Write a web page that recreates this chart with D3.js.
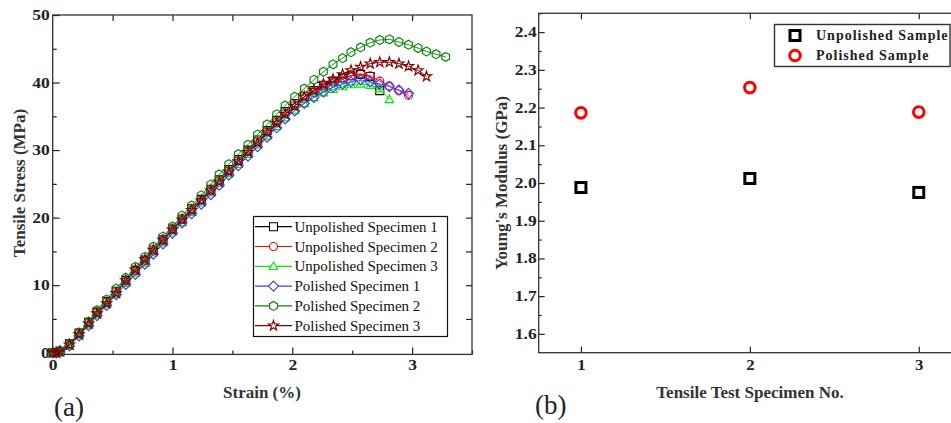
<!DOCTYPE html>
<html>
<head>
<meta charset="utf-8">
<script src="https://cdnjs.cloudflare.com/ajax/libs/d3/7.8.5/d3.min.js"></script>
<style>
  body { margin: 0; background: #fff; }
  svg { display: block; font-family: "Liberation Serif", "Times New Roman", serif; }
</style>
</head>
<body>
<div id="chart"></div>
<script>
// (a) stress-strain curves, strain grid shared by every specimen
var strain = [0, 0.03, 0.06, 0.14, 0.22, 0.30, 0.37, 0.45, 0.53, 0.61, 0.69, 0.77, 0.84, 0.92, 1.00, 1.08, 1.16, 1.24, 1.32, 1.39, 1.47, 1.55, 1.63, 1.71, 1.79, 1.87, 1.94, 2.02, 2.10, 2.18, 2.26, 2.34, 2.42, 2.49, 2.57, 2.65, 2.73, 2.81, 2.89, 2.97, 3.05, 3.12, 3.20, 3.28];

var stressUnpolished1 = [0, 0, 0.2, 1.3, 2.9, 4.5, 6.0, 7.6, 9.1, 10.7, 12.2, 13.7, 15.2, 16.7, 18.3, 19.8, 21.3, 22.7, 24.2, 25.6, 27.1, 28.6, 30.0, 31.5, 32.9, 34.4, 35.7, 36.9, 37.9, 38.8, 39.6, 40.2, 40.7, 41.0, 41.2, 40.9, 38.8];
var stressUnpolished2 = [0, 0, 0.1, 1.2, 2.8, 4.4, 5.9, 7.5, 9.0, 10.6, 12.1, 13.6, 15.1, 16.6, 18.2, 19.7, 21.1, 22.6, 24.0, 25.5, 26.9, 28.4, 29.8, 31.2, 32.7, 34.1, 35.4, 36.6, 37.6, 38.5, 39.3, 40.0, 40.6, 41.0, 41.3, 41.0, 40.2, 39.5, 38.8, 38.1];
var stressUnpolished3 = [0, 0, 0, 1.0, 2.5, 4.1, 5.6, 7.2, 8.7, 10.3, 11.8, 13.3, 14.8, 16.3, 17.9, 19.3, 20.8, 22.2, 23.7, 25.1, 26.5, 27.9, 29.4, 30.8, 32.1, 33.5, 34.8, 35.9, 36.9, 37.8, 38.5, 39.0, 39.4, 39.7, 39.8, 39.6, 39.1, 37.5];
var stressPolished1 = [0, 0, 0.1, 1.0, 2.5, 4.0, 5.5, 7.0, 8.6, 10.1, 11.6, 13.1, 14.6, 16.1, 17.7, 19.2, 20.6, 22.0, 23.4, 24.8, 26.3, 27.7, 29.1, 30.5, 31.9, 33.3, 34.6, 35.8, 36.9, 37.8, 38.6, 39.3, 39.8, 40.1, 40.4, 40.1, 39.8, 39.4, 38.9, 38.4];
var stressPolished2 = [0, 0, 0.3, 1.3, 3.0, 4.6, 6.3, 7.9, 9.5, 11.1, 12.7, 14.2, 15.7, 17.2, 18.7, 20.3, 21.8, 23.3, 24.9, 26.4, 27.9, 29.4, 30.8, 32.3, 33.8, 35.3, 36.6, 37.9, 39.1, 40.4, 41.6, 42.7, 43.6, 44.5, 45.2, 45.9, 46.3, 46.4, 46.0, 45.6, 45.1, 44.6, 44.2, 43.8];
var stressPolished3 = [0, 0, 0.2, 1.2, 2.7, 4.3, 5.8, 7.3, 8.8, 10.7, 12.3, 13.8, 15.2, 16.7, 18.2, 19.7, 21.1, 22.5, 24.0, 25.3, 26.8, 28.3, 29.7, 31.1, 32.6, 34.0, 35.3, 36.5, 37.9, 38.9, 39.8, 40.5, 41.2, 41.8, 42.3, 42.8, 43.0, 43.0, 42.8, 42.4, 41.8, 40.9];

var seriesNames = ["Unpolished Specimen 1", "Unpolished Specimen 2", "Unpolished Specimen 3", "Polished Specimen 1", "Polished Specimen 2", "Polished Specimen 3"];
var seriesColors = ["#000000", "#ff0000", "#00ee00", "#3c3cff", "#008800", "#800000"];
var seriesShapes = ["square", "circle", "triangle", "diamond", "hexagon", "star"];
var seriesStress = [stressUnpolished1, stressUnpolished2, stressUnpolished3, stressPolished1, stressPolished2, stressPolished3];

var strainTicks = [0, 1, 2, 3];
var stressTicks = [0, 10, 20, 30, 40, 50];

// (b) Young's modulus per specimen
var specimenNo = [1, 2, 3];
var modulusUnpolished = [1.988, 2.012, 1.975];
var modulusPolished = [2.186, 2.253, 2.188];
var modulusTicks = [1.6, 1.7, 1.8, 1.9, 2.0, 2.1, 2.2, 2.3, 2.4];

var svg = d3.select('#chart').append('svg')
  .attr('width', 951)
  .attr('height', 423);

// marker paths
function shapePath(shape, r) {
  if (shape == "square") return "M" + (-r) + "," + (-r) + "h" + 2 * r + "v" + 2 * r + "h" + (-2 * r) + "Z";
  if (shape == "circle") return d3.symbol(d3.symbolCircle, Math.PI * r * r)();
  if (shape == "triangle") return "M0," + (-r * 1.1) + "L" + r * 1.05 + "," + r * 0.8 + "L" + (-r * 1.05) + "," + r * 0.8 + "Z";
  if (shape == "diamond") return "M0," + (-r * 1.25) + "L" + r * 1.25 + ",0L0," + r * 1.25 + "L" + (-r * 1.25) + ",0Z";
  if (shape == "hexagon") {
    var pts = [];
    for (var i = 0; i < 6; i++) {
      var a = Math.PI / 3 * i - Math.PI / 2;
      pts.push([r * 1.12 * Math.cos(a), r * 1.12 * Math.sin(a)]);
    }
    return "M" + pts.join("L") + "Z";
  }
  if (shape == "star") return d3.symbol(d3.symbolStar, r * r * 2.0)();
}

function stretch(sel, k) {
  sel.each(function() {
    var w = this.getComputedTextLength();
    d3.select(this).attr('textLength', w * k).attr('lengthAdjust', 'spacingAndGlyphs');
  });
}

function styleAxis(g) {
  g.select('.domain').remove();
  g.selectAll('line').attr('stroke', '#222').attr('stroke-width', 1.2);
  g.selectAll('text')
    .attr('font-family', '"Liberation Serif", serif')
    .attr('font-size', '14px')
    .attr('font-weight', 'bold')
    .attr('fill', '#222');
}

// ---------------- panel (a) ----------------
var xA = d3.scaleLinear().domain([0, 3.5]).range([52.7, 472]);
var yA = d3.scaleLinear().domain([-0.25, 50]).range([354.4, 15]);

var gA = svg.append('g');

gA.append('g').attr('transform', 'translate(0,' + yA.range()[0] + ')')
  .call(d3.axisBottom(xA).tickValues(strainTicks).tickSize(-7).tickPadding(6).tickFormat(d3.format('d')))
  .call(styleAxis)
  .call(function(g) { stretch(g.selectAll('text'), 1.25); });
gA.append('g').attr('transform', 'translate(0,' + yA.range()[0] + ')')
  .call(d3.axisBottom(xA).tickValues([0.5, 1.5, 2.5, 3.5]).tickSize(-4).tickFormat(''))
  .call(styleAxis);
gA.append('g').attr('transform', 'translate(0,' + yA.range()[1] + ')')
  .call(d3.axisTop(xA).tickValues([0.5, 1, 1.5, 2, 2.5, 3]).tickSize(-6).tickFormat(''))
  .call(styleAxis);

gA.append('g').attr('transform', 'translate(' + xA.range()[0] + ',0)')
  .call(d3.axisLeft(yA).tickValues(stressTicks).tickSize(-7).tickPadding(3).tickFormat(d3.format('d')))
  .call(styleAxis)
  .call(function(g) { stretch(g.selectAll('text'), 1.25); });
gA.append('g').attr('transform', 'translate(' + xA.range()[0] + ',0)')
  .call(d3.axisLeft(yA).tickValues([5, 15, 25, 35, 45]).tickSize(-4).tickFormat(''))
  .call(styleAxis);
gA.append('g').attr('transform', 'translate(' + xA.range()[1] + ',0)')
  .call(d3.axisRight(yA).tickValues([5, 10, 15, 20, 25, 30, 35, 40, 45]).tickSize(-6).tickFormat(''))
  .call(styleAxis);

gA.append('rect')
  .attr('x', xA.range()[0]).attr('y', yA.range()[1])
  .attr('width', xA.range()[1] - xA.range()[0])
  .attr('height', yA.range()[0] - yA.range()[1])
  .attr('fill', 'none').attr('stroke', '#333').attr('stroke-width', 1.3);

var line = d3.line()
  .x(function(d, i) { return xA(strain[i]); })
  .y(function(d) { return yA(d); });

for (var s = 0; s < seriesStress.length; s++) {
  var col = seriesColors[s];
  gA.append('path')
    .datum(seriesStress[s])
    .attr('d', line)
    .attr('fill', 'none')
    .attr('stroke', col)
    .attr('stroke-width', 0.9);
  gA.append('g').selectAll('path')
    .data(seriesStress[s])
    .enter()
    .append('path')
    .attr('transform', function(d, i) { return 'translate(' + xA(strain[i]) + ',' + yA(d) + ')'; })
    .attr('d', shapePath(seriesShapes[s], 4))
    .attr('fill', 'none')
    .attr('stroke', col)
    .attr('stroke-width', 1.15);
}

// legend (a)
var legA = gA.append('g');
legA.append('rect')
  .attr('x', 253.5).attr('y', 216.5).attr('width', 194).attr('height', 120)
  .attr('fill', '#fff').attr('stroke', '#111').attr('stroke-width', 1.2);
var rows = legA.selectAll('g.row')
  .data(seriesNames)
  .enter()
  .append('g')
  .attr('transform', function(d, i) { return 'translate(0,' + (226.7 + i * 19.8) + ')'; });
rows.append('line')
  .attr('x1', 255).attr('x2', 292).attr('y1', 0).attr('y2', 0)
  .attr('stroke', function(d, i) { return seriesColors[i]; })
  .attr('stroke-width', 1.2);
rows.append('path')
  .attr('transform', 'translate(273.5,0)')
  .attr('d', function(d, i) { return shapePath(seriesShapes[i], 4); })
  .attr('fill', '#fff')
  .attr('stroke', function(d, i) { return seriesColors[i]; })
  .attr('stroke-width', 1.1);
rows.append('text')
  .attr('x', 294.5).attr('y', 5)
  .attr('font-size', '15px')
  .attr('fill', '#111')
  .text(function(d) { return d; });

gA.append('text')
  .attr('transform', 'translate(25,183) rotate(-90)')
  .attr('text-anchor', 'middle')
  .attr('font-size', '17px').attr('font-weight', 'bold').attr('fill', '#333')
  .text('Tensile Stress (MPa)');
gA.append('text')
  .attr('x', 262).attr('y', 398)
  .attr('text-anchor', 'middle')
  .attr('font-size', '17px').attr('font-weight', 'bold').attr('fill', '#333')
  .text('Strain (%)');
gA.append('text')
  .attr('x', 54).attr('y', 416)
  .attr('font-size', '27px').attr('fill', '#222')
  .text('(a)');

// ---------------- panel (b) ----------------
var xB = d3.scaleLinear().domain([0.75, 3.25]).range([538.7, 961]);
var yB = d3.scaleLinear().domain([1.55, 2.45]).range([352.7, 13.3]);

var gB = svg.append('g');

gB.append('g').attr('transform', 'translate(0,' + yB.range()[0] + ')')
  .call(d3.axisBottom(xB).tickValues(specimenNo).tickSize(-6).tickPadding(7).tickFormat(d3.format('d')))
  .call(styleAxis)
  .call(function(g) { stretch(g.selectAll('text'), 1.2); });
gB.append('g').attr('transform', 'translate(0,' + yB.range()[1] + ')')
  .call(d3.axisTop(xB).tickValues(specimenNo).tickSize(-6).tickFormat(''))
  .call(styleAxis);
gB.append('g').attr('transform', 'translate(' + xB.range()[0] + ',0)')
  .call(d3.axisLeft(yB).tickValues(modulusTicks).tickSize(-6).tickPadding(2).tickFormat(d3.format('.1f')))
  .call(styleAxis)
  .call(function(g) { stretch(g.selectAll('text'), 1.25); });
gB.append('g').attr('transform', 'translate(' + xB.range()[0] + ',0)')
  .call(d3.axisLeft(yB).tickValues([1.65, 1.75, 1.85, 1.95, 2.05, 2.15, 2.25, 2.35, 2.45]).tickSize(-3).tickFormat(''))
  .call(styleAxis);

gB.append('rect')
  .attr('x', xB.range()[0]).attr('y', yB.range()[1])
  .attr('width', xB.range()[1] - xB.range()[0])
  .attr('height', yB.range()[0] - yB.range()[1])
  .attr('fill', 'none').attr('stroke', '#333').attr('stroke-width', 1.3);

gB.append('g').selectAll('rect')
  .data(modulusUnpolished)
  .enter()
  .append('rect')
  .attr('x', function(d, i) { return xB(specimenNo[i]) - 5; })
  .attr('y', function(d) { return yB(d) - 5; })
  .attr('width', 10).attr('height', 10)
  .attr('fill', 'none').attr('stroke', '#000').attr('stroke-width', 3);

gB.append('g').selectAll('circle')
  .data(modulusPolished)
  .enter()
  .append('circle')
  .attr('cx', function(d, i) { return xB(specimenNo[i]); })
  .attr('cy', function(d) { return yB(d); })
  .attr('r', 5.3)
  .attr('fill', 'none').attr('stroke', '#ff0000').attr('stroke-width', 3);

// legend (b)
var legB = gB.append('g');
legB.append('rect')
  .attr('x', 774.5).attr('y', 24.5).attr('width', 175.5).attr('height', 42)
  .attr('fill', '#fff').attr('stroke', '#333').attr('stroke-width', 1.4);
legB.append('rect')
  .attr('x', 790).attr('y', 30.5).attr('width', 10).attr('height', 10)
  .attr('fill', 'none').attr('stroke', '#000').attr('stroke-width', 3);
legB.append('circle')
  .attr('cx', 795).attr('cy', 55.5).attr('r', 5.3)
  .attr('fill', 'none').attr('stroke', '#ff0000').attr('stroke-width', 3);
legB.append('text')
  .attr('x', 816).attr('y', 40)
  .attr('font-size', '14px').attr('font-weight', 'bold').attr('letter-spacing', '1px').attr('fill', '#222')
  .text('Unpolished Sample');
legB.append('text')
  .attr('x', 816).attr('y', 60)
  .attr('font-size', '14px').attr('font-weight', 'bold').attr('letter-spacing', '1px').attr('fill', '#222')
  .text('Polished Sample');

gB.append('text')
  .attr('transform', 'translate(507,183) rotate(-90)')
  .attr('text-anchor', 'middle')
  .attr('font-size', '17px').attr('font-weight', 'bold').attr('fill', '#333')
  .text("Young's Modulus (GPa)");
gB.append('text')
  .attr('x', 750).attr('y', 398)
  .attr('text-anchor', 'middle')
  .attr('font-size', '17px').attr('font-weight', 'bold').attr('fill', '#333')
  .text('Tensile Test Specimen No.');
gB.append('text')
  .attr('x', 535).attr('y', 414)
  .attr('font-size', '27px').attr('fill', '#222')
  .text('(b)');
</script>
</body>
</html>
